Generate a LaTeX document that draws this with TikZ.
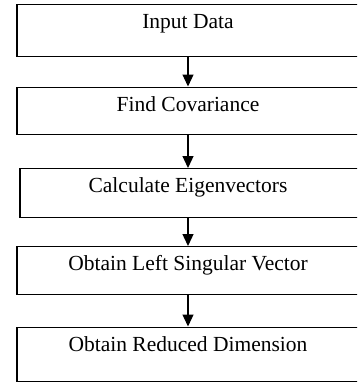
\documentclass[tikz,border=0pt]{standalone}
\usepackage{fontspec}
\setmainfont{Liberation Serif}
\usepackage{tikz}
\usetikzlibrary{arrows.meta}
\usetikzlibrary{positioning}

\tikzset{stepbox/.style={draw,rectangle,anchor=north,line width=1.4pt,inner xsep=0pt,inner ysep=0pt,minimum width=342pt,text height=24pt,font=\fontsize{21.5pt}{26pt}\selectfont}}

\begin{document}
\begin{tikzpicture}[x=1pt,y=-1pt,every path/.style={>={Triangle[length=12pt,width=11pt]}}]
		\useasboundingbox (0,0) rectangle (357,388);
		\clip (0,0) rectangle (357,388);

		% draw steps
		\node (IN) at (188,3.5) [stepbox,text depth=28pt] {Input Data};
		\node (COV) at (188,86.5) [stepbox,text depth=23pt] {Find Covariance};
		\node (EIG) at (188,168) [stepbox,xshift=2pt,minimum width=340pt,text depth=24.5pt] {\hspace*{-4pt}Calculate Eigenvectors};
		\node (LSV) at (188,246) [stepbox,text depth=23.5pt] {Obtain Left Singular Vector};
		\node (RED) at (188,326.5) [stepbox,text depth=30.5pt] {Obtain Reduced Dimension};

		% draw lines between steps
		\draw[->,line width=1.3pt] (IN.south) to (COV.north);
		\draw[->,line width=1.3pt] (COV.south) to (EIG.north-|COV.south);
		\draw[->,line width=1.3pt] (EIG.south-|COV.south) to (LSV.north);
		\draw[->,line width=1.3pt] (LSV.south) to (RED.north);
	\end{tikzpicture}
\end{document}
